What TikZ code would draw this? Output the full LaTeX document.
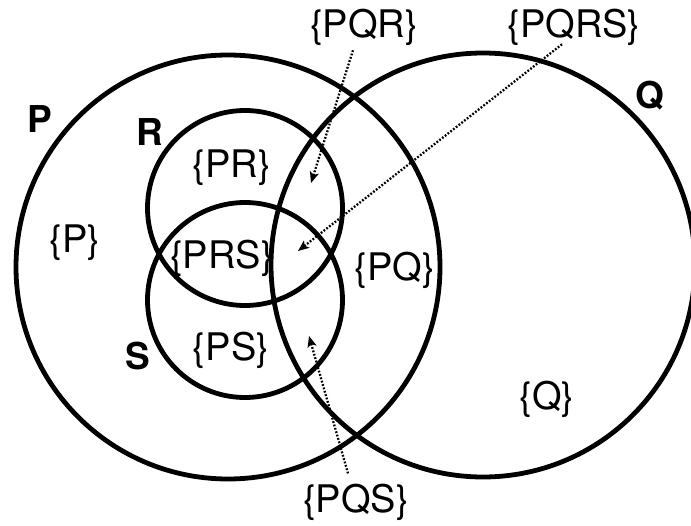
\documentclass[tikz,border=0pt]{standalone}
\usepackage{fontspec}
\setmainfont{TeX Gyre Heros}
\usetikzlibrary{arrows.meta,calc}
\begin{document}
\begin{tikzpicture}[x=1pt,y=-1pt,
  ring/.style={line width=4.8pt,draw=black},
  lab/.style={anchor=base,inner sep=3pt,font=\fontsize{38}{40}\selectfont},
  setname/.style={anchor=base,inner sep=3pt,font=\fontsize{37}{40}\selectfont\bfseries},
  pointer/.style={line width=2.3pt,dash pattern=on 1.8pt off 1.7pt,
    -{Stealth[length=11pt,width=9pt,inset=2.5pt]}}]
\useasboundingbox (0,0) rectangle (691,525);
% circles
\draw[ring] (228,267) circle (212);
\draw[ring] (483,265) circle (212);
\draw[ring] (245,208) circle (97.5);
\draw[ring] (245,300) circle (97.5);
% set names
\node[setname] (nP) at (40,132) {P};
\node[setname] (nQ) at (650,108) {Q};
\node[setname] (nR) at (150,145) {R};
\node[setname] (nS) at (138,369) {S};
% region labels
\node[lab] (lP) at (75,252) {\{P\}};
\node[lab] (lPR) at (232,177) {\{PR\}};
\node[lab] (lPRS) at (222,268) {\{PRS\}};
\node[lab] (lPS) at (231,360) {\{PS\}};
\node[lab] (lPQ) at (395,280) {\{PQ\}};
\node[lab] (lQ) at (547,409) {\{Q\}};
\node[lab] (lPQR) at (364,37) {\{PQR\}};
\node[lab] (lPQRS) at (574,37) {\{PQRS\}};
\node[lab] (lPQS) at (356,512) {\{PQS\}};
% arrow targets
\coordinate (tPQR) at (311,183);
\coordinate (tPQRS) at (298,251);
\coordinate (tPQS) at (309,336);
\draw[pointer] ($(lPQR.south)+(-11,2)$) -- (tPQR);
\draw[pointer] ($(lPQRS.south)+(-12,-4)$) -- (tPQRS);
\draw[pointer] ($(lPQS.north)+(-8,-7)$) -- (tPQS);
\end{tikzpicture}
\end{document}
